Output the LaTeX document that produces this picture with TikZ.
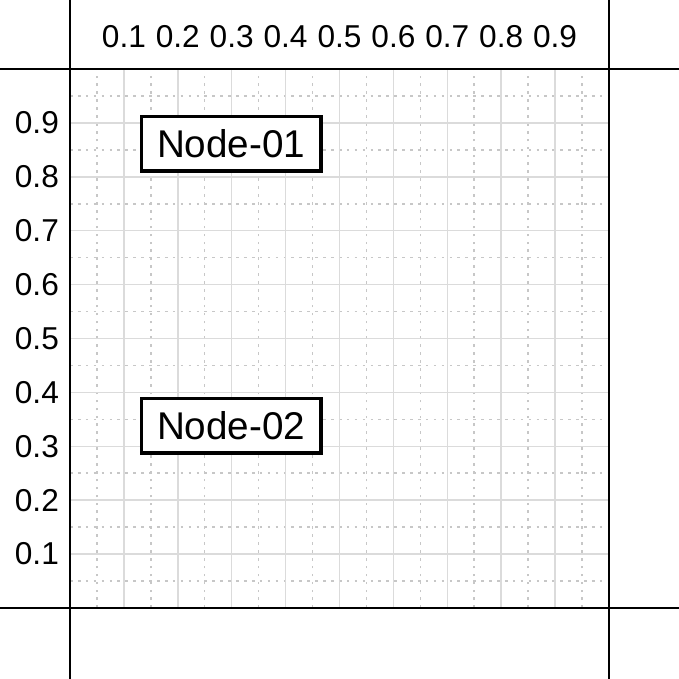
\documentclass[tikz,border=0pt]{standalone}
\usepackage{fontspec}
\setmainfont{Liberation Sans}
\usetikzlibrary{positioning}

\begin{document}
\begin{tikzpicture}[
    x=10.78cm, y=10.78cm,
    box/.style={draw, line width=1.9pt, fill=white, minimum width=3.6cm, minimum height=1.09cm, font=\fontsize{22}{26}\selectfont},
    tick label/.style={inner sep=0pt, font=\fontsize{18}{21}\selectfont},
    major/.style={draw=black!14, line width=0.85pt},
    minor/.style={draw=black!22, line width=0.85pt, dash pattern=on 1.5pt off 3pt},
    frame/.style={draw=black, line width=1.1pt}
]
    \useasboundingbox (-0.1299, -0.1317) rectangle (1.1299, 1.128);

    % 网格
    \foreach \t in {0.05, 0.15, ..., 0.96} {
        \draw[minor] (\t, 0) -- (\t, 1);
        \draw[minor] (0, \t) -- (1, \t);
    }
    \foreach \t in {0.1, 0.2, ..., 0.91} {
        \draw[major] (\t, 0) -- (\t, 1);
        \draw[major] (0, \t) -- (1, \t);
    }

    % 边框
    \draw[frame] (-0.2, 0) -- (1.2, 0);
    \draw[frame] (-0.2, 1) -- (1.2, 1);
    \draw[frame] (0, -0.2) -- (0, 1.2);
    \draw[frame] (1, -0.2) -- (1, 1.2);

    % 刻度
    \foreach \i in {1, ..., 9} {
        \node[tick label] (xt\i) at (\i/10, 1.06) {0.\i};
        \node[tick label, anchor=east] (yt\i) at (-0.02, \i/10) {0.\i};
    }

    % 节点
    \node[box] (n01) at (0.299, 0.861) {Node-01};
    \node[box] (n02) at (0.299, 0.338) {Node-02};
\end{tikzpicture}
\end{document}
